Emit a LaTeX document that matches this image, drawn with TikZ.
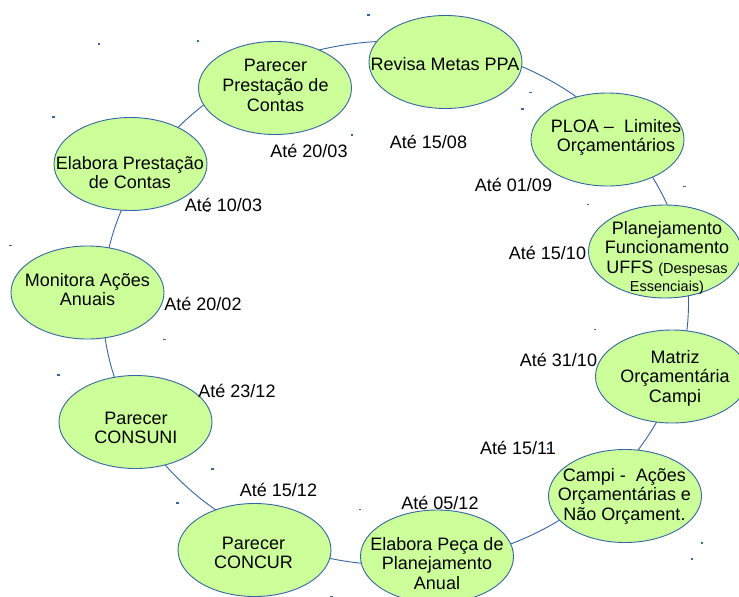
\documentclass[tikz,border=0pt]{standalone}
\usepackage{fontspec}
\setmainfont{Liberation Sans}
\usetikzlibrary{shapes.geometric}
\definecolor{bubfill}{HTML}{CCFF99}
\definecolor{edgeblue}{HTML}{3465A4}
\begin{document}
\begin{tikzpicture}[x=1pt,y=-1pt,
  ringline/.style={draw=edgeblue, line width=0.9pt, ellipse, inner sep=0pt,
    minimum width=586pt, minimum height=524pt},
  bub/.style={ellipse, draw=edgeblue, fill=bubfill, line width=0.9pt, inner sep=0pt,
    minimum width=153pt, minimum height=93pt},
  bubtext/.style={inner sep=0pt, anchor=base, font=\fontsize{18}{19.8}\selectfont, text=black},
  datelbl/.style={inner sep=0pt, anchor=base, font=\fontsize{18}{19.8}\selectfont, text=black},
  handle/.style={fill=edgeblue}
]
\useasboundingbox (0,0) rectangle (739,597);
\clip (0,0) rectangle (739,597);

% ring connecting all steps
\node[ringline] (ring) at (395.5,303) {};

% ellipses
\node[bub] (ec) at (130.5,164) {};
\node[bub] (pp) at (275,88) {};
\node[bub] (rv) at (445.5,62) {};
\node[bub] (pl) at (607.5,139.5) {};
\node[bub] (pf) at (665,251.5) {};
\node[bub] (mo) at (672,376.5) {};
\node[bub] (cp) at (625,496) {};
\node[bub] (ep) at (437,556.5) {};
\node[bub] (cc) at (254.5,550) {};
\node[bub] (cs) at (135.5,422) {};
\node[bub] (ma) at (87.5,292.5) {};

% small corner handles
\foreach \n in {ec,pp,rv,pl,pf,mo,cp,ep,cc,cs,ma}{
  \fill[handle] (\n.west |- \n.north) +(-1.2,-0.6) rectangle +(1.2,0.6);
  \fill[handle] (\n.east |- \n.south) +(-1.2,-0.6) rectangle +(1.2,0.6);
}
\coordinate (rnw) at (99,44);
\coordinate (rse) at (692,559);
\fill[handle] (rnw) +(-1.2,-0.6) rectangle +(1.2,0.6);
\fill[handle] (rse) +(-1.2,-0.6) rectangle +(1.2,0.6);

% texts inside ellipses
\node[bubtext] (ec-t) at (130,169) {\begin{tabular}[t]{@{}c@{}}Elabora Prestação\\de Contas\end{tabular}};
\node[bubtext] (pp-t) at (275.5,71.5) {\begin{tabular}[t]{@{}c@{}}Parecer\\Prestação de\\Contas\end{tabular}};
\node[bubtext] (rv-t) at (445,70) {\begin{tabular}[t]{@{}c@{}}Revisa Metas PPA\end{tabular}};
\node[bubtext] (pl-t) at (616,132) {\begin{tabular}[t]{@{}c@{}}PLOA –\ \ Limites\\Orçamentários\end{tabular}};
\node[bubtext] (pf-t) at (667,234) {\begin{tabular}[t]{@{}c@{}}Planejamento\\Funcionamento\\UFFS {\fontsize{14.5}{17}\selectfont (Despesas}\\[-2.3pt]{\fontsize{14.5}{17}\selectfont Essenciais)}\end{tabular}};
\node[bubtext] (mo-t) at (675,363) {\begin{tabular}[t]{@{}c@{}}Matriz\\Orçamentária\\Campi\end{tabular}};
\node[bubtext] (cp-t) at (624.5,481) {\begin{tabular}[t]{@{}c@{}}Campi -\ \ Ações\\Orçamentárias e\\Não Orçament.\end{tabular}};
\node[bubtext] (ep-t) at (437,550) {\begin{tabular}[t]{@{}c@{}}Elabora Peça de\\Planejamento\\Anual\end{tabular}};
\node[bubtext] (cc-t) at (253.5,549) {\begin{tabular}[t]{@{}c@{}}Parecer\\CONCUR\end{tabular}};
\node[bubtext] (cs-t) at (136,424) {\begin{tabular}[t]{@{}c@{}}Parecer\\CONSUNI\end{tabular}};
\node[bubtext] (ma-t) at (87.5,286) {\begin{tabular}[t]{@{}c@{}}Monitora Ações\\Anuais\end{tabular}};

% date labels
\node[datelbl] (d1) at (309,157) {Até 20/03};
\node[datelbl] (d2) at (428.5,148) {Até 15/08};
\node[datelbl] (d3) at (513.5,191) {Até 01/09};
\node[datelbl] (d4) at (547.5,259) {Até 15/10};
\node[datelbl] (d5) at (558.5,366.5) {Até 31/10};
\node[datelbl] (d6) at (518,454) {Até 15/11};
\node[datelbl] (d7) at (440,509) {Até 05/12};
\node[datelbl] (d8) at (278.5,496.5) {Até 15/12};
\node[datelbl] (d9) at (237,397) {Até 23/12};
\node[datelbl] (d10) at (203,310) {Até 20/02};
\node[datelbl] (d11) at (223.5,211.5) {Até 10/03};
\end{tikzpicture}
\end{document}
